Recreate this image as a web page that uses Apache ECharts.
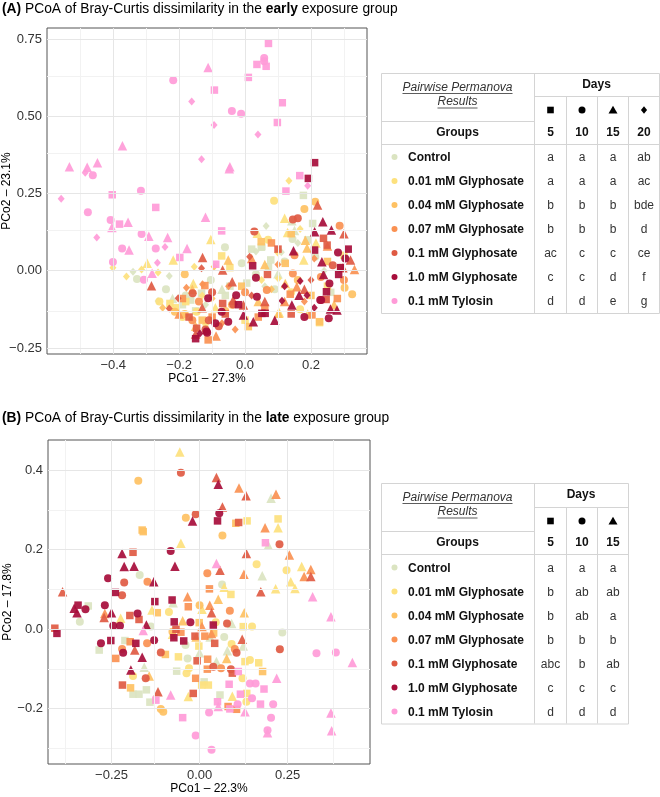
<!DOCTYPE html>
<html>
<head>
<meta charset="utf-8">
<script src="https://cdn.jsdelivr.net/npm/echarts@6/dist/echarts.min.js"></script>
<style>
html, body { margin: 0; padding: 0; background: #fff; }
#chart { width: 660px; height: 797px; }
</style>
</head>
<body>
<div id="chart"></div>
<script>
var groups = ['Control', '0.01 mM Glyphosate', '0.04 mM Glyphosate', '0.07 mM Glyphosate',
              '0.1 mM Glyphosate', '1.0 mM Glyphosate', '0.1 mM Tylosin'];
var groupColors = ['#dbe4c1', '#fde17d', '#fec163', '#fa9152', '#df5a43', '#a70d3b', '#ff9bd8'];

var earlyDays = ['5', '10', '15', '20'];
var lateDays = ['5', '10', '15'];
var earlyLetters = [
  ['a', 'a', 'a', 'ab'], ['a', 'a', 'a', 'ac'], ['b', 'b', 'b', 'bde'], ['b', 'b', 'b', 'd'],
  ['ac', 'c', 'c', 'ce'], ['c', 'c', 'd', 'f'], ['d', 'd', 'e', 'g']
];
var lateLetters = [
  ['a', 'a', 'a'], ['b', 'ab', 'ab'], ['b', 'ab', 'a'], ['b', 'b', 'b'],
  ['abc', 'b', 'ab'], ['c', 'c', 'c'], ['d', 'd', 'd']
];

var earlyXTicks = [-0.4, -0.2, 0, 0.2];
var earlyXMinor = [-0.5, -0.3, -0.1, 0.1, 0.3];
var earlyYTicks = [-0.25, 0, 0.25, 0.5, 0.75];
var earlyYMinor = [-0.125, 0.125, 0.375, 0.625];
var lateXTicks = [-0.25, 0, 0.25];
var lateXMinor = [-0.375, -0.125, 0.125, 0.375];
var lateYTicks = [-0.2, 0, 0.2, 0.4];
var lateYMinor = [-0.3, -0.1, 0.1, 0.3];

// points: [PCo1, PCo2, day]
var earlyControl = [[-0.340,-0.003,20],[-0.328,-0.027,10],[-0.264,-0.098,20],[-0.230,-0.017,20],[-0.061,0.076,10],
  [0.064,0.145,20],[0.051,0.078,5],[0.033,0.062,20],[0.177,0.244,5],[0.142,0.162,15],[0.205,0.153,5],[0.144,0.103,10],
  [0.213,0.045,10],[0.049,0.076,5],[0.071,0.013,5],[0.078,0.035,5],[-0.010,0.024,10],[-0.132,-0.073,5],[-0.104,-0.030,10],
  [-0.180,-0.080,10],[-0.165,-0.095,5],[-0.060,-0.080,5],[-0.150,-0.130,5],[0.033,-0.011,10],[0.110,0.060,20],
  [0.100,-0.010,15],[0.190,0.100,5],[0.240,0.000,20],[0.005,-0.040,5],[-0.070,-0.060,15],[-0.220,-0.090,15],
  [-0.190,-0.110,5],[0.160,0.090,20],[0.120,0.030,10],[0.260,-0.070,5],[0.060,-0.050,20],
  [-0.046,-0.050,5],[0.020,0.070,5],[0.150,0.130,15],[-0.120,-0.110,20],[0.090,-0.060,10],[-0.240,-0.060,10]];
var earlyG001 = [[-0.401,0.010,20],[-0.360,-0.019,20],[-0.314,0.004,20],[-0.297,0.024,15],[-0.264,-0.006,20],
  [-0.218,0.035,15],[-0.154,0.013,20],[-0.104,0.101,15],[-0.071,0.048,5],[-0.046,0.010,5],[0.088,0.227,10],
  [0.133,0.291,20],[0.129,0.124,15],[0.167,0.135,20],[0.037,0.121,15],[0.099,0.059,20],[0.101,-0.025,20],
  [0.178,0.035,15],[0.167,-0.125,10],[0.104,-0.136,15],[0.226,-0.168,5],[-0.228,-0.106,5],[-0.147,-0.133,10],
  [-0.157,-0.041,15],[-0.210,-0.120,5],[-0.190,-0.150,10],[-0.120,-0.175,20],[0.000,-0.160,5],[0.190,-0.140,15],
  [0.215,0.090,15],[-0.260,-0.100,10],[0.070,0.100,10],[0.300,0.050,5],
  [-0.180,-0.100,5],[-0.090,-0.120,15],[0.050,-0.030,20],[0.140,-0.070,10],[-0.130,-0.080,20],[0.250,-0.050,5],[0.120,0.170,15]];
var earlyG004 = [[-0.183,-0.011,10],[-0.094,0.013,20],[-0.051,0.035,15],[0.049,0.094,5],[0.122,0.024,5],
  [0.183,0.099,15],[0.188,0.074,15],[0.213,0.223,10],[0.302,-0.055,10],[0.325,-0.076,10],[0.226,-0.165,5],
  [0.010,-0.181,5],[0.101,-0.138,15],[0.122,-0.041,15],[-0.213,-0.133,10],[-0.183,-0.140,10],[-0.100,-0.090,20],
  [-0.010,-0.050,5],[0.040,-0.100,15],[0.160,-0.030,10],[0.250,0.030,5],[-0.150,-0.180,15],[0.080,-0.060,20],
  [-0.060,-0.130,10],[0.140,0.120,5],[0.270,-0.110,15],[-0.250,-0.120,20],
  [-0.130,-0.160,5],[-0.040,-0.110,10],[0.060,0.020,15],[0.200,-0.080,5],[-0.160,-0.060,15],[0.290,0.010,10],[0.180,0.200,10]];
var earlyG007 = [[0.287,0.146,10],[0.332,0.004,15],[0.145,-0.009,10],[0.157,-0.052,15],[0.137,-0.076,5],
  [0.066,-0.062,10],[-0.122,-0.048,5],[-0.178,-0.055,20],[-0.129,-0.044,20],[-0.112,-0.224,5],[-0.088,-0.211,15],
  [0.203,-0.143,5],[-0.050,-0.050,20],[0.000,-0.070,10],[0.060,-0.120,5],[0.180,-0.100,20],[0.230,-0.020,10],
  [-0.160,-0.160,10],[-0.100,-0.150,5],[0.280,-0.090,5],[0.100,0.020,20],[0.020,0.040,15],[-0.200,-0.140,15],
  [0.250,0.080,15],[0.150,0.050,10],[-0.030,-0.190,20],[0.080,0.090,5],
  [-0.140,-0.100,10],[-0.070,-0.170,20],[0.040,-0.150,5],[0.120,-0.100,15],[-0.190,-0.090,5],[0.210,0.040,20],[0.300,-0.030,10]];
var earlyG01 = [[-0.284,-0.049,15],[-0.129,0.043,15],[-0.132,0.008,20],[-0.068,0.002,15],[0.014,0.045,20],
  [0.028,0.127,10],[0.068,-0.012,5],[0.145,0.166,10],[0.160,0.170,10],[0.220,0.213,15],[0.238,0.105,5],
  [0.249,0.083,5],[0.320,0.035,15],[0.266,0.018,10],[0.297,0.010,15],[0.246,-0.093,5],[-0.005,-0.111,15],
  [-0.068,-0.106,5],[-0.036,-0.109,10],[-0.203,-0.089,20],[-0.230,-0.122,20],[-0.147,-0.186,5],[-0.159,-0.073,10],
  [-0.039,-0.036,15],[-0.036,-0.095,15],[-0.110,-0.160,10],[-0.130,-0.120,15],[-0.080,-0.180,10],[0.020,-0.080,20],
  [-0.150,-0.205,15],[0.100,0.070,5],[0.200,-0.030,20],[-0.060,-0.140,5],
  [-0.100,-0.070,10],[-0.170,-0.150,5],[0.060,-0.100,15],[0.180,-0.060,15],[-0.120,-0.190,10],[0.300,0.120,15],[0.140,-0.140,5]];
var earlyG10 = [[0.192,0.299,5],[0.211,0.350,5],[0.236,0.159,15],[0.262,0.132,15],[0.211,0.126,15],[0.147,0.065,15],
  [0.211,0.067,5],[0.282,0.059,10],[0.313,0.070,5],[0.304,0.040,10],[0.233,0.029,15],[0.284,-0.012,5],
  [0.238,-0.012,15],[0.256,-0.041,10],[0.228,-0.095,10],[0.259,-0.124,15],[0.279,-0.127,15],[0.254,-0.154,10],
  [0.210,-0.120,20],[0.142,-0.111,15],[0.164,-0.079,15],[0.188,-0.079,20],[0.167,-0.033,20],[0.112,-0.097,20],
  [0.036,-0.084,10],[0.051,-0.138,5],[0.061,-0.138,5],[-0.005,-0.143,15],[0.025,-0.165,15],[-0.027,-0.079,10],
  [-0.071,-0.133,10],[-0.051,-0.165,10],[-0.137,-0.203,20],[-0.117,-0.197,10],[-0.115,-0.201,10],[0.023,0.016,5],
  [0.033,-0.023,10],[-0.112,-0.089,10],[0.231,-0.095,10],[0.247,-0.068,5],
  [-0.090,-0.170,10],[-0.020,-0.110,5],[0.090,-0.160,15],[0.290,0.010,5],[0.180,-0.150,10],[0.120,-0.050,20],[-0.150,-0.220,5]];
var earlyTylosin = [[0.071,0.736,5],[0.058,0.689,10],[0.058,0.678,10],[0.036,0.668,5],[0.064,0.662,5],
  [-0.112,0.658,15],[0.010,0.626,5],[-0.218,0.617,10],[-0.093,0.585,5],[-0.162,0.548,20],[0.113,0.544,5],
  [-0.040,0.517,10],[-0.012,0.508,10],[0.098,0.480,5],[-0.094,0.472,20],[0.039,0.441,20],[-0.372,0.405,15],
  [-0.132,0.361,20],[-0.533,0.337,15],[-0.479,0.335,15],[-0.448,0.350,15],[-0.485,0.317,20],[-0.462,0.309,10],
  [-0.046,0.337,15],[-0.048,0.330,15],[0.166,0.308,5],[0.190,0.275,20],[0.124,0.258,5],[-0.558,0.233,20],
  [-0.403,0.246,5],[-0.316,0.259,10],[-0.271,0.205,5],[-0.477,0.189,10],[-0.120,0.173,15],[-0.408,0.164,10],
  [-0.404,0.140,15],[-0.381,0.151,5],[-0.355,0.157,15],[-0.071,0.129,5],[-0.450,0.108,20],[-0.314,0.119,10],
  [-0.292,0.112,15],[-0.235,0.108,15],[-0.373,0.072,10],[-0.352,0.067,15],[-0.271,0.072,10],[-0.243,0.077,20],
  [-0.176,0.072,15],[-0.198,0.043,5],[-0.401,0.028,10],[-0.307,-0.029,10],[-0.282,-0.008,15],[-0.266,0.026,20],
  [-0.089,0.021,5]];

var lateControl = [[0.203,0.329,15],[0.195,0.211,15],[-0.170,0.136,10],[0.178,0.134,15],[0.064,0.112,10],
  [-0.316,0.058,5],[-0.340,0.018,10],[-0.075,0.066,15],[-0.138,0.006,10],[0.091,0.014,15],[0.235,-0.009,10],
  [-0.212,-0.029,5],[-0.285,-0.053,5],[0.124,-0.043,15],[-0.034,-0.074,10],[0.048,-0.082,15],[0.079,-0.055,15],
  [-0.065,-0.106,5],[0.013,-0.133,5],[-0.189,-0.164,5],[-0.172,-0.164,5],[-0.151,-0.153,5],[-0.141,-0.184,5],
  [0.058,-0.166,5],[-0.157,-0.096,15],[0.030,-0.020,15],[-0.040,-0.040,10],[0.000,-0.060,15],[0.070,-0.020,10]];
var lateG001 = [[-0.056,0.445,15],[0.135,0.272,5],[0.223,0.277,5],[0.223,0.255,15],[-0.053,0.216,15],
  [0.162,0.163,10],[0.247,0.148,10],[0.290,0.157,15],[0.259,0.119,15],[0.271,0.102,15],[0.216,0.101,15],
  [0.089,0.087,5],[0.070,0.105,15],[-0.224,0.027,15],[-0.135,0.048,15],[0.007,0.050,15],[-0.087,0.043,10],
  [0.046,0.017,10],[0.124,0.006,5],[0.149,0.006,10],[-0.077,-0.013,15],[-0.002,-0.043,5],[0.091,-0.038,10],
  [-0.189,-0.118,10],[-0.030,-0.099,10],[-0.037,-0.111,10],[0.122,-0.124,10],[0.129,-0.082,5],[0.143,-0.078,10],
  [0.168,-0.085,5],[0.006,-0.141,5],[0.025,-0.141,5],[-0.032,-0.170,15],[0.093,-0.169,15],[0.134,-0.162,5],
  [0.133,-0.183,10],[-0.060,-0.070,5]];
var lateG004 = [[-0.174,0.373,10],[-0.039,0.280,10],[0.103,0.266,5],[-0.163,0.249,5],[-0.160,0.245,5],
  [0.065,0.235,10],[0.053,0.075,15],[-0.120,0.041,5],[-0.077,-0.007,10],[-0.048,0.021,15],[-0.001,0.016,5],
  [0.127,0.041,15],[0.077,-0.074,15],[-0.097,-0.064,5],[-0.143,-0.118,15],[-0.196,-0.148,5],[-0.110,-0.201,10],
  [-0.103,-0.208,10],[0.179,-0.107,5],[0.000,0.060,10],[0.040,-0.010,5],[-0.010,-0.020,15]];
var lateG007 = [[0.112,0.355,15],[0.217,0.339,15],[0.186,0.255,15],[0.255,0.186,15],[0.316,0.150,15],
  [0.297,0.132,15],[-0.148,0.119,10],[0.022,0.140,10],[0.126,0.138,15],[0.028,0.101,5],[-0.269,0.039,15],
  [-0.034,0.081,15],[-0.032,0.056,5],[0.029,0.060,15],[0.086,0.046,10],[0.007,0.006,15],[-0.053,-0.008,5],
  [0.015,-0.018,5],[0.034,-0.011,15],[-0.197,-0.032,5],[-0.149,-0.036,10],[-0.238,-0.074,5],[0.023,-0.076,5],
  [-0.011,-0.124,5],[0.022,-0.101,5],[0.061,-0.099,10],[0.081,-0.195,5],[0.105,-0.202,5],[-0.220,-0.050,10],
  [0.100,-0.050,10]];
var lateG01 = [[-0.053,0.393,10],[0.048,0.381,15],[0.132,0.335,15],[0.065,0.307,15],[-0.011,0.289,10],
  [0.111,0.268,5],[0.227,0.213,10],[-0.189,0.193,5],[0.133,0.190,15],[0.058,0.148,15],[0.316,0.132,15],
  [-0.214,0.117,10],[0.174,0.094,15],[-0.389,0.094,15],[-0.271,0.029,15],[-0.198,0.034,5],[-0.172,0.024,5],
  [0.034,0.041,15],[-0.067,-0.001,5],[0.078,0.014,10],[-0.013,-0.018,5],[0.043,-0.036,5],[0.121,-0.026,15],
  [0.228,-0.051,10],[-0.184,-0.053,15],[-0.110,-0.059,10],[-0.007,-0.080,5],[0.105,-0.060,10],[-0.153,-0.124,10],
  [0.039,-0.095,10],[0.089,-0.101,10],[0.093,-0.111,5],[-0.219,-0.141,5],[-0.118,-0.158,15],[-0.018,-0.162,5],
  [-0.411,0.002,5],[-0.220,0.085,10]];
var lateG10 = [[0.053,0.364,15],[0.056,0.291,10],[-0.020,0.272,15],[0.051,0.272,5],[-0.220,0.190,15],
  [-0.082,0.196,10],[-0.214,0.157,15],[-0.186,0.158,15],[-0.070,0.158,15],[-0.260,0.128,10],[-0.130,0.119,15],
  [-0.239,0.092,5],[-0.356,0.052,15],[-0.345,0.060,5],[-0.348,0.041,15],[-0.324,0.050,10],[-0.269,0.060,10],
  [-0.250,0.041,15],[-0.176,0.039,10],[-0.245,0.008,10],[-0.226,0.008,10],[-0.127,0.069,5],[-0.078,0.073,5],
  [-0.151,0.010,15],[-0.026,0.017,10],[-0.072,0.018,5],[0.039,0.010,5],[-0.280,-0.036,10],[-0.252,-0.029,5],
  [-0.181,-0.036,5],[-0.129,-0.028,10],[-0.073,-0.022,5],[-0.045,-0.030,5],[-0.217,-0.060,10],[-0.163,-0.071,15],
  [-0.195,-0.103,15],[-0.405,-0.011,5]];
var lateTylosin = [[0.187,0.217,5],[0.048,0.165,15],[0.321,0.081,15],[0.373,0.031,15],[0.332,-0.061,10],
  [0.387,-0.059,10],[0.434,-0.084,15],[-0.160,-0.004,15],[0.110,-0.107,5],[0.143,-0.137,10],[0.159,-0.137,10],
  [0.219,-0.124,15],[-0.124,-0.179,5],[-0.082,-0.166,15],[-0.048,-0.223,5],[-0.011,-0.268,10],[0.034,-0.304,10],
  [0.027,-0.210,10],[0.051,-0.183,5],[0.053,-0.195,15],[0.084,-0.139,5],[0.116,-0.164,5],[0.086,-0.201,5],
  [0.108,-0.189,10],[0.149,-0.174,10],[0.183,-0.151,5],[0.173,-0.189,5],[0.209,-0.189,10],[0.129,-0.208,15],
  [0.203,-0.223,10],[0.193,-0.261,15],[0.193,-0.255,10],[0.373,-0.211,15],[0.375,-0.256,15]];

var earlyPoints = [earlyControl, earlyG001, earlyG004, earlyG007, earlyG01, earlyG10, earlyTylosin];
var latePoints = [lateControl, lateG001, lateG004, lateG007, lateG01, lateG10, lateTylosin];

var FONT = '"Liberation Sans", Arial, Helvetica, sans-serif';
var LINE = '#d4d4d4';
var dayShape = { 5: 'rect', 10: 'circle', 15: 'triangle', 20: 'diamond' };
var daySize = { 5: 7.5, 10: 8, 15: 9.5, 20: [7, 8] };

var myChart = echarts.init(document.getElementById('chart'));

function fmt(d) {
  return function (v) {
    var s = Math.abs(v).toFixed(d);
    return v < 0 ? '\u2212' + s : s;
  };
}

function axis(gi, min, max, ticks, digits, name, gap) {
  return {
    type: 'value', gridIndex: gi, min: min, max: max,
    splitLine: { show: false },
    axisLine: { show: false },
    axisTick: { show: true, customValues: ticks, length: 3, lineStyle: { color: '#333' } },
    axisLabel: { customValues: ticks, formatter: fmt(digits), fontSize: 13, color: '#333', margin: 5, fontFamily: FONT },
    name: name, nameLocation: 'middle', nameGap: gap, nameMoveOverlap: false,
    nameTextStyle: { fontSize: 12, color: '#000', fontFamily: FONT }
  };
}

function gridLines(gi, xMaj, xMin, yMaj, yMin) {
  var minor = { color: '#f2f2f2', width: 1, type: 'solid' };
  var major = { color: '#e6e6e6', width: 1, type: 'solid' };
  var d = [];
  xMin.forEach(function (v) { d.push({ xAxis: v, lineStyle: minor }); });
  yMin.forEach(function (v) { d.push({ yAxis: v, lineStyle: minor }); });
  xMaj.forEach(function (v) { d.push({ xAxis: v, lineStyle: major }); });
  yMaj.forEach(function (v) { d.push({ yAxis: v, lineStyle: major }); });
  return {
    type: 'scatter', xAxisIndex: gi, yAxisIndex: gi, data: [], z: 1, silent: true,
    markLine: { silent: true, symbol: ['none', 'none'], label: { show: false }, animation: false, data: d }
  };
}

function pointSeries(gi, pts, color) {
  return {
    type: 'scatter', xAxisIndex: gi, yAxisIndex: gi, data: pts, z: 3, silent: true, animation: false,
    symbol: function (v) { return dayShape[v[2]]; },
    symbolSize: function (v) { return daySize[v[2]]; },
    itemStyle: { color: color, opacity: 0.92 }
  };
}

var measure = document.createElement('canvas').getContext('2d');

function shapeIcon(day, cx, cy) {
  var s = { fill: '#000' };
  if (day === '5') return { type: 'rect', shape: { x: cx - 3.3, y: cy - 3.3, width: 6.6, height: 6.6 }, style: s };
  if (day === '10') return { type: 'circle', shape: { cx: cx, cy: cy, r: 3.5 }, style: s };
  if (day === '15') return { type: 'polygon', shape: { points: [[cx, cy - 4.3], [cx + 4.5, cy + 3.4], [cx - 4.5, cy + 3.4]] }, style: s };
  return { type: 'polygon', shape: { points: [[cx, cy - 3.7], [cx + 3.1, cy], [cx, cy + 3.7], [cx - 3.1, cy]] }, style: s };
}

function txt(t, x, y, opt) {
  opt = opt || {};
  return {
    type: 'text', style: {
      text: t, x: x, y: y, fill: opt.fill || '#222', fontSize: 12, fontFamily: FONT,
      fontWeight: opt.bold ? 'bold' : 'normal', fontStyle: opt.italic ? 'italic' : 'normal',
      align: opt.align || 'center', verticalAlign: 'middle'
    }
  };
}

function hline(x1, x2, y) { return { type: 'line', shape: { x1: x1, y1: y + 0.5, x2: x2, y2: y + 0.5 }, style: { stroke: LINE, lineWidth: 1 } }; }
function vline(x, y1, y2) { return { type: 'line', shape: { x1: x + 0.5, y1: y1, x2: x + 0.5, y2: y2 }, style: { stroke: LINE, lineWidth: 1 } }; }

function table(t, days, letters) {
  var els = [];
  var right = t.cols[t.cols.length - 1];
  var bottom = t.rowTop + (groups.length - 1) * t.rowStep + 11;
  els.push({ type: 'rect', shape: { x: t.left + 0.5, y: t.top + 0.5, width: right - t.left, height: bottom - t.top }, style: { fill: 'none', stroke: LINE, lineWidth: 1 } });
  els.push(vline(t.cols[0], t.top, bottom));
  els.push(hline(t.cols[0], right, t.daysLine));
  els.push(hline(t.left, t.cols[0], t.resultsLine));
  els.push(hline(t.left, right, t.headerBottom));
  for (var i = 1; i < t.cols.length - 1; i++) els.push(vline(t.cols[i], t.daysLine, bottom));
  var gx = (t.left + t.cols[0]) / 2;
  measure.font = 'italic 12px ' + FONT;
  [['Pairwise Permanova', t.top + 14.5], ['Results', t.top + 29]].forEach(function (p) {
    els.push(txt(p[0], gx, p[1], { italic: true, fill: '#333' }));
    var w = measure.measureText(p[0]).width;
    els.push({ type: 'line', shape: { x1: gx - w / 2, y1: p[1] + 6, x2: gx + w / 2, y2: p[1] + 6 }, style: { stroke: '#333', lineWidth: 0.8 } });
  });
  els.push(txt('Groups', gx, t.headerBottom - 11.5, { bold: true, fill: '#111' }));
  els.push(txt('Days', (t.cols[0] + right) / 2, t.top + 11.5, { bold: true, fill: '#111' }));
  days.forEach(function (d, j) {
    var cx = (t.cols[j] + t.cols[j + 1]) / 2 + 0.5;
    els.push(shapeIcon(d, cx, t.daysLine + 14));
    els.push(txt(d, cx, t.headerBottom - 11.5, { bold: true, fill: '#111' }));
  });
  groups.forEach(function (g, r) {
    var cy = t.rowTop + r * t.rowStep;
    els.push({ type: 'circle', shape: { cx: t.left + 13.5, cy: cy - 1, r: 3 }, style: { fill: groupColors[r] } });
    els.push(txt(g, t.left + 27, cy, { bold: true, align: 'left', fill: '#111' }));
    letters[r].forEach(function (l, j) {
      els.push(txt(l, (t.cols[j] + t.cols[j + 1]) / 2 + 0.5, cy, { fill: '#333' }));
    });
  });
  return els;
}

function title(letter, word, y) {
  return {
    type: 'text', style: {
      text: '{b|(' + letter + ')} PCoA of Bray-Curtis dissimilarity in the {b|' + word + '} exposure group',
      x: 2, y: y, fill: '#000', fontSize: 13.8, fontFamily: FONT, verticalAlign: 'middle',
      rich: { b: { fontWeight: 'bold', fontSize: 13.8, fontFamily: FONT, fill: '#000' } }
    }
  };
}

var graphics = [title('A', 'early', 9), title('B', 'late', 418)]
  .concat(table({ left: 381, cols: [534, 566, 597, 628, 659], top: 73, daysLine: 96, resultsLine: 121, headerBottom: 144, rowTop: 158, rowStep: 24 }, earlyDays, earlyLetters))
  .concat(table({ left: 381, cols: [534, 566, 597, 628], top: 483, daysLine: 507, resultsLine: 531, headerBottom: 554, rowTop: 568.5, rowStep: 24 }, lateDays, lateLetters));

var series = [
  gridLines(0, earlyXTicks, earlyXMinor, earlyYTicks, earlyYMinor),
  gridLines(1, lateXTicks, lateXMinor, lateYTicks, lateYMinor)
];
earlyPoints.forEach(function (pts, i) { series.push(pointSeries(0, pts, groupColors[i])); });
latePoints.forEach(function (pts, i) { series.push(pointSeries(1, pts, groupColors[i])); });

var option = {
  backgroundColor: '#fff',
  animation: false,
  grid: [
    { left: 47, top: 28, width: 320, height: 326, outerBoundsMode: 'none', containLabel: false,
      show: true, borderColor: '#555', borderWidth: 1, backgroundColor: '#fff' },
    { left: 48, top: 440, width: 322, height: 324, outerBoundsMode: 'none', containLabel: false,
      show: true, borderColor: '#555', borderWidth: 1, backgroundColor: '#fff' }
  ],
  xAxis: [
    axis(0, -0.601, 0.370, earlyXTicks, 1, 'PCo1 \u2013 27.3%', 19),
    axis(1, -0.4304, 0.484, lateXTicks, 2, 'PCo1 \u2013 22.3%', 19)
  ],
  yAxis: [
    axis(0, -0.2696, 0.786, earlyYTicks, 2, 'PCo2 \u2013 23.1%', 34),
    axis(1, -0.3396, 0.4755, lateYTicks, 1, 'PCo2 \u2013 17.8%', 34)
  ],
  series: series,
  graphic: graphics
};

myChart.setOption(option);
window.onresize = function () {
  myChart.resize();
};
</script>
</body>
</html>
